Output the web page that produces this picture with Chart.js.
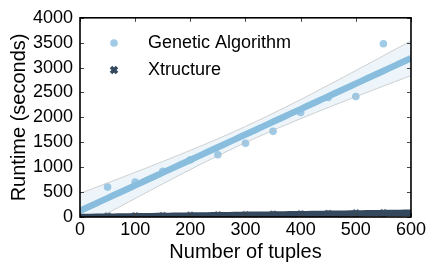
<!DOCTYPE html>
<html>
<head>
<meta charset="utf-8">
<script src="https://cdn.jsdelivr.net/npm/chart.js@4.4.0/dist/chart.umd.min.js"></script>
<style>
html,body{margin:0;padding:0;background:#fff;}
#wrap{width:428px;height:262px;}
</style>
</head>
<body>
<div id="wrap"><canvas id="c" width="428" height="262"></canvas></div>
<script>
// ---- data ----
const tuples = [50, 100, 150, 200, 250, 300, 350, 400, 450, 500, 550];
const geneticRuntime = [600, 700, 920, 1150, 1250, 1480, 1720, 2100, 2400, 2420, 3480];
const xtructureRuntime = [8, 14, 20, 27, 33, 40, 47, 55, 62, 72, 80];
const seriesNames = ['Genetic Algorithm', 'Xtructure'];
const xTicks = [0, 100, 200, 300, 400, 500, 600];
const yTicks = [0, 500, 1000, 1500, 2000, 2500, 3000, 3500, 4000];

const gaColor = [136, 189, 222];
const xtColor = [52, 73, 94];
const rgba = (c, a) => `rgba(${c[0]},${c[1]},${c[2]},${a})`;

// least-squares fit with 95% confidence band (as seaborn regplot shows)
function regression(xs, ys, x0, x1, step) {
  const n = xs.length;
  const mx = xs.reduce((a, b) => a + b, 0) / n;
  const my = ys.reduce((a, b) => a + b, 0) / n;
  let sxx = 0, sxy = 0;
  for (let i = 0; i < n; i++) { sxx += (xs[i] - mx) ** 2; sxy += (xs[i] - mx) * (ys[i] - my); }
  const b = sxy / sxx, a = my - b * mx;
  let sse = 0;
  for (let i = 0; i < n; i++) sse += (ys[i] - (a + b * xs[i])) ** 2;
  const s = Math.sqrt(sse / (n - 2));
  const t = 2.262;
  const line = [], up = [], lo = [];
  for (let x = x0; x <= x1; x += step) {
    const yh = a + b * x;
    const se = s * Math.sqrt(1 / n + (x - mx) ** 2 / sxx);
    line.push({x, y: yh}); up.push({x, y: yh + t * se}); lo.push({x, y: yh - t * se});
  }
  return {line, up, lo};
}
const gaFit = regression(tuples, geneticRuntime, 0, 600, 10);
const xtFit = regression(tuples, xtructureRuntime, 0, 600, 10);
const pts = (xs, ys) => xs.map((x, i) => ({x, y: ys[i]}));

// filled "X" marker
function makeX(size) {
  const c = document.createElement('canvas');
  c.width = size; c.height = size;
  const g = c.getContext('2d');
  g.translate(size / 2, size / 2);
  g.strokeStyle = rgba(xtColor, 1);
  g.lineWidth = size * 0.36;
  const r = size * 0.3;
  g.beginPath(); g.moveTo(-r, -r); g.lineTo(r, r); g.moveTo(-r, r); g.lineTo(r, -r); g.stroke();
  return c;
}
const xMarker = makeX(10);

const FONT = '"Liberation Sans", Arial, sans-serif';

const framePlugin = {
  id: 'frame',
  afterDraw(chart) {
    const {ctx, chartArea: ca, scales} = chart;
    ctx.save();
    // inward ticks
    ctx.strokeStyle = '#444'; ctx.lineWidth = 1;
    ctx.beginPath();
    xTicks.forEach(v => {
      const px = Math.round(scales.x.getPixelForValue(v)) + 0.5;
      ctx.moveTo(px, ca.top); ctx.lineTo(px, ca.top + 4);
      ctx.moveTo(px, ca.bottom); ctx.lineTo(px, ca.bottom - 4);
    });
    yTicks.forEach(v => {
      const py = Math.round(scales.y.getPixelForValue(v)) + 0.5;
      ctx.moveTo(ca.left, py); ctx.lineTo(ca.left + 4, py);
      ctx.moveTo(ca.right, py); ctx.lineTo(ca.right - 4, py);
    });
    ctx.stroke();
    // spines
    ctx.strokeStyle = '#000'; ctx.lineWidth = 1.6;
    ctx.strokeRect(ca.left, ca.top, ca.right - ca.left, ca.bottom - ca.top);
    // legend
    ctx.fillStyle = rgba(gaColor, 0.8);
    ctx.beginPath(); ctx.arc(114, 43, 3.8, 0, Math.PI * 2); ctx.fill();
    ctx.drawImage(xMarker, 109, 65);
    ctx.fillStyle = '#000';
    ctx.font = '18px ' + FONT;
    ctx.textBaseline = 'middle';
    ctx.textAlign = 'left';
    ctx.fillText(seriesNames[0], 148, 43);
    ctx.fillText(seriesNames[1], 148, 70);
    ctx.restore();
  }
};

const gaBandColor = rgba(gaColor, 0.15);
const xtBandColor = rgba(xtColor, 0.15);

new Chart(document.getElementById('c'), {
  type: 'scatter',
  data: {
    datasets: [
      {label: seriesNames[0], data: pts(tuples, geneticRuntime), pointRadius: 3.8, pointHoverRadius: 3.8,
       backgroundColor: rgba(gaColor, 0.8), borderWidth: 0, order: 9, clip: 0},
      {label: 'gaUp', type: 'line', data: gaFit.up, pointRadius: 0, borderWidth: 1,
       borderColor: 'rgba(190,190,190,0.7)', backgroundColor: gaBandColor, fill: {target: 2}, order: 8, clip: 0},
      {label: 'gaLo', type: 'line', data: gaFit.lo, pointRadius: 0, borderWidth: 1,
       borderColor: 'rgba(190,190,190,0.7)', fill: false, order: 8, clip: 0},
      {label: 'gaLine', type: 'line', data: gaFit.line, pointRadius: 0, borderWidth: 6.5,
       borderColor: rgba(gaColor, 1), fill: false, order: 7, clip: 0},
      {label: seriesNames[1], data: pts(tuples, xtructureRuntime), pointStyle: xMarker, pointRadius: 5,
       backgroundColor: rgba(xtColor, 1), order: 6, clip: 0},
      {label: 'xtUp', type: 'line', data: xtFit.up, pointRadius: 0, borderWidth: 1,
       borderColor: rgba(xtColor, 0.5), backgroundColor: xtBandColor, fill: {target: 6}, order: 5, clip: 0},
      {label: 'xtLo', type: 'line', data: xtFit.lo, pointRadius: 0, borderWidth: 1,
       borderColor: rgba(xtColor, 0.5), fill: false, order: 5, clip: 0},
      {label: 'xtLine', type: 'line', data: xtFit.line, pointRadius: 0, borderWidth: 6.5,
       borderColor: rgba(xtColor, 1), fill: false, order: 4, clip: 0}
    ]
  },
  options: {
    responsive: false,
    animation: false,
    devicePixelRatio: 1,
    layout: {padding: {top: 17, right: 15, left: 0, bottom: 0}},
    plugins: {legend: {display: false}, tooltip: {enabled: false}},
    scales: {
      x: {
        type: 'linear', min: 0, max: 600,
        afterBuildTicks: s => { s.ticks = xTicks.map(v => ({value: v})); },
        afterFit: s => { s.height = 45; },
        grid: {display: false, drawTicks: false},
        border: {display: false},
        ticks: {color: '#000', padding: 2, font: {family: FONT, size: 18}, callback: v => String(v)},
        title: {display: true, text: 'Number of tuples', color: '#000',
                font: {family: FONT, size: 20, lineHeight: 1}, padding: {top: 0, bottom: 0}}
      },
      y: {
        type: 'linear', min: 0, max: 4000,
        afterBuildTicks: s => { s.ticks = yTicks.map(v => ({value: v})); },
        afterFit: s => { s.width = 80; },
        grid: {display: false, drawTicks: false},
        border: {display: false},
        ticks: {color: '#000', padding: 7, font: {family: FONT, size: 18}, callback: v => String(v)},
        title: {display: true, text: 'Runtime (seconds)', color: '#000',
                font: {family: FONT, size: 20, lineHeight: 1}, padding: {top: 9, bottom: 0}}
      }
    }
  },
  plugins: [framePlugin]
});
</script>
</body>
</html>
